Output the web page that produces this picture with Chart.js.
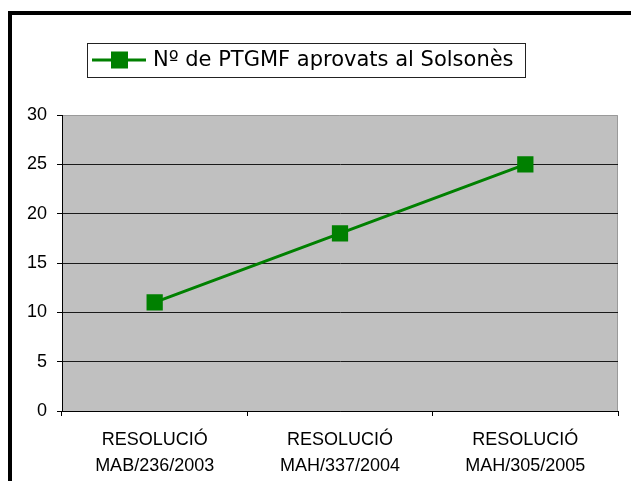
<!DOCTYPE html>
<html>
<head>
<meta charset="utf-8">
<script src="https://cdn.jsdelivr.net/npm/chart.js@4/dist/chart.umd.min.js"></script>
<style>
    html, body { margin: 0; padding: 0; background: #fff; overflow: hidden; }
    #frame {
        position: absolute; left: 8px; top: 11px; width: 800px; height: 600px;
        border-left: 4px solid #000; border-top: 4px solid #000;
    }
    #wrap { position: absolute; left: 0; top: 0; width: 631px; height: 481px; }
</style>
</head>
<body>
<div id="frame"></div>
<div id="wrap"><canvas id="ptgmfChart" width="631" height="481"></canvas></div>
<script>
const categories = [
    ['RESOLUCIÓ', 'MAB/236/2003'],
    ['RESOLUCIÓ', 'MAH/337/2004'],
    ['RESOLUCIÓ', 'MAH/305/2005']
];
const seriesLabel = 'Nº de PTGMF aprovats al Solsonès';
const seriesValues = [11, 18, 25];
const yTicks = [0, 5, 10, 15, 20, 25, 30];

const green = '#008000';

// grey plot area with a light border on top / right
const plotBackground = {
    id: 'plotBackground',
    beforeDraw(chart) {
        const { ctx, chartArea: a } = chart;
        ctx.save();
        ctx.fillStyle = '#c0c0c0';
        ctx.fillRect(a.left, a.top, a.right - a.left, a.bottom - a.top);
        ctx.strokeStyle = '#9a9a9a';
        ctx.lineWidth = 1;
        ctx.beginPath();
        ctx.moveTo(a.left, a.top + 0.5);
        ctx.lineTo(a.right - 0.5, a.top + 0.5);
        ctx.lineTo(a.right - 0.5, a.bottom);
        ctx.stroke();
        ctx.restore();
    }
};

// boxed legend: line + square marker + label
const boxLegend = {
    id: 'boxLegend',
    afterDraw(chart) {
        const ctx = chart.ctx;
        const ds = chart.data.datasets[0];
        const box = { x: 87, y: 43, w: 438, h: 34 };
        const cy = box.y + box.h / 2;
        ctx.save();
        ctx.fillStyle = '#fff';
        ctx.fillRect(box.x, box.y, box.w, box.h);
        ctx.strokeStyle = '#222';
        ctx.lineWidth = 1;
        ctx.strokeRect(box.x + 0.5, box.y + 0.5, box.w, box.h);
        ctx.strokeStyle = ds.borderColor;
        ctx.lineWidth = 3;
        ctx.beginPath();
        ctx.moveTo(92, cy);
        ctx.lineTo(146, cy);
        ctx.stroke();
        ctx.fillStyle = ds.pointBackgroundColor;
        ctx.fillRect(111, cy - 8.5, 17, 17);
        ctx.fillStyle = '#000';
        ctx.font = '21px "DejaVu Sans"';
        ctx.textBaseline = 'middle';
        ctx.textAlign = 'left';
        ctx.fillText(ds.label, 153, cy + 1);
        ctx.restore();
    }
};

new Chart(document.getElementById('ptgmfChart').getContext('2d'), {
    type: 'line',
    data: {
        labels: categories,
        datasets: [{
            label: seriesLabel,
            data: seriesValues,
            borderColor: green,
            borderWidth: 3,
            pointStyle: 'rect',
            pointRadius: 11.5,
            pointHoverRadius: 11.5,
            pointBackgroundColor: green,
            pointBorderWidth: 0,
            tension: 0,
            fill: false
        }]
    },
    options: {
        responsive: false,
        animation: false,
        layout: { padding: { top: 115, right: 13, bottom: 0, left: 0 } },
        plugins: {
            legend: { display: false },
            tooltip: { enabled: false }
        },
        scales: {
            x: {
                offset: true,
                grid: {
                    offset: true,
                    drawOnChartArea: false,
                    tickLength: 5,
                    tickColor: '#000'
                },
                border: { color: '#000', width: 1 },
                ticks: {
                    color: '#000',
                    padding: 11,
                    maxRotation: 0,
                    autoSkip: false,
                    font: { family: '"Liberation Sans", Arial', size: 18, lineHeight: '26px' }
                },
                afterFit: (scale) => { scale.height = 70; }
            },
            y: {
                min: 0,
                max: 30,
                afterBuildTicks: (scale) => { scale.ticks = yTicks.map(v => ({ value: v })); },
                grid: {
                    color: (c) => (c.tick && c.tick.value === 30 ? 'rgba(0,0,0,0)' : '#1a1a1a'),
                    tickColor: '#000',
                    tickLength: 5,
                    lineWidth: 1
                },
                border: { color: '#000', width: 1 },
                ticks: {
                    color: '#000',
                    padding: 10,
                    font: { family: '"Liberation Sans", Arial', size: 18 }
                },
                afterFit: (scale) => { scale.width = 62; }
            }
        }
    },
    plugins: [plotBackground, boxLegend]
});
</script>
</body>
</html>
